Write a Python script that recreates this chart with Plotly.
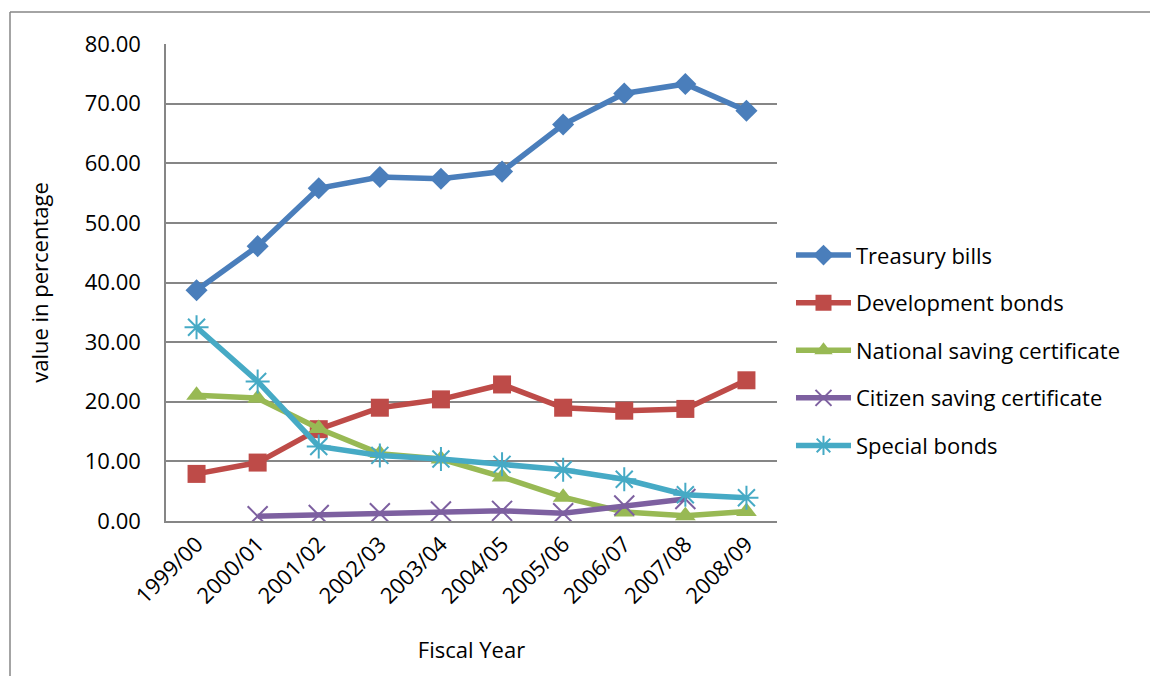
import plotly.graph_objects as go

years = ["1999/00", "2000/01", "2001/02", "2002/03", "2003/04",
         "2004/05", "2005/06", "2006/07", "2007/08", "2008/09"]
treasury_bills = [38.7, 46.1, 55.8, 57.7, 57.4, 58.6, 66.5, 71.7, 73.3, 68.8]
development_bonds = [7.9, 9.8, 15.4, 19.0, 20.4, 22.9, 19.0, 18.5, 18.8, 23.6]
national_saving = [21.1, 20.6, 15.5, 11.3, 10.4, 7.4, 4.0, 1.5, 0.9, 1.6]
citizen_saving = [None, 0.8, 1.0, 1.3, 1.6, 1.7, 1.3, 2.6, 3.7, None]
special_bonds = [32.5, 23.4, 12.5, 11.0, 10.4, 9.5, 8.6, 7.0, 4.4, 3.9]

series = [
    ("Treasury bills", treasury_bills, "#4A7EBB", "diamond", 17, 0),
    ("Development bonds", development_bonds, "#BE4B48", "square", 18, 0),
    ("National saving certificate", national_saving, "#98B954", "triangle-up", 18, 0),
    ("Citizen saving certificate", citizen_saving, "#7D60A0", "x-thin-open", 20, 2),
    ("Special bonds", special_bonds, "#46AAC5", "asterisk-open", 20, 2),
]

FONT = "Open Sans"
fig = go.Figure()
for i, (name, vals, col, sym, size, lw) in enumerate(series):
    fig.add_trace(go.Scatter(
        x=years, y=vals, name=name, mode="lines+markers",
        legendgroup=f"g{i}",
        line=dict(color=col, width=5.5),
        marker=dict(symbol=sym, size=size, color=col,
                    line=dict(color=col, width=lw)),
        connectgaps=False,
    ))

L, R, T, B = 166, 777, 44, 521
W, H = 1150, 676
fig.update_layout(
    width=W, height=H,
    margin=dict(l=L, r=W - R, t=T, b=H - B, pad=0),
    paper_bgcolor="white", plot_bgcolor="white",
    font=dict(family=FONT, color="#000000"),
    showlegend=True,
    legend=dict(x=1.0229, y=0.358, xanchor="left", yanchor="middle",
                font=dict(size=22, family=FONT), tracegroupgap=16,
                itemwidth=55, bgcolor="rgba(0,0,0,0)"),
    xaxis=dict(
        type="category", range=[-0.5, 9.5], showgrid=False,
        showline=True, linecolor="#868686", linewidth=1.5,
        ticks="", tickangle=-45, tickfont=dict(size=22, family=FONT),
        title=dict(text="Fiscal Year", font=dict(size=22, family=FONT), standoff=34),
    ),
    yaxis=dict(
        range=[0, 80], dtick=10, tickformat=".2f",
        showgrid=True, gridcolor="#868686", gridwidth=1.5,
        showline=True, linecolor="#868686", linewidth=1.5,
        ticks="", ticklen=0, tickfont=dict(size=22, family=FONT),
        ticklabelstandoff=19,
        zeroline=False,
        title=dict(text="value in percentage", font=dict(size=22, family=FONT), standoff=30),
    ),
)

# outer chart border (left and top edges visible)
px = lambda x: (x - L) / (R - L)
py = lambda y: (B - y) / (B - T)
fig.add_shape(type="line", xref="paper", yref="paper",
              x0=px(10), x1=px(10), y0=py(12), y1=py(680),
              line=dict(color="#868686", width=1.5))
fig.add_shape(type="line", xref="paper", yref="paper",
              x0=px(10), x1=px(1160), y0=py(12), y1=py(12),
              line=dict(color="#868686", width=1.5))

fig.write_html("out.html")
